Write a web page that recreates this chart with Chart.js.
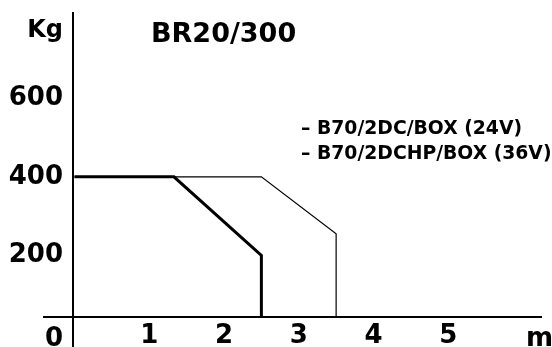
<!DOCTYPE html>
<html>
<head>
<meta charset="utf-8">
<script src="https://cdn.jsdelivr.net/npm/chart.js@4.4.1/dist/chart.umd.min.js"></script>
<style>
  html, body { margin: 0; padding: 0; background: #fff; }
  #wrap { width: 552px; height: 347px; }
</style>
</head>
<body>
<div id="wrap"><canvas id="c" width="552" height="347"></canvas></div>
<script>
// ---- data ----
const chartTitle = 'BR20/300';
const yAxisUnit = 'Kg';
const xAxisUnit = 'm';
const originLabel = '0';
const xTicks = [1, 2, 3, 4, 5];
const yTicks = [200, 400, 600];
const seriesNames = ['B70/2DC/BOX (24V)', 'B70/2DCHP/BOX (36V)'];
const s24x = [0, 1.33, 2.5, 2.5];
const s24y = [400, 400, 200, 0];
const s36x = [0, 2.5, 3.5, 3.5];
const s36y = [400, 400, 255, 0];

const FONT = 'DejaVu Sans';
const toPts = (xs, ys) => xs.map((x, i) => ({ x: x, y: ys[i] }));

const decor = {
  id: 'decor',
  afterDraw(chart) {
    const ctx = chart.ctx;
    const ca = chart.chartArea;
    ctx.save();
    ctx.strokeStyle = '#000';
    ctx.lineWidth = 2;
    // y axis line (runs to the bottom edge)
    ctx.beginPath();
    ctx.moveTo(ca.left, ca.top);
    ctx.lineTo(ca.left, chart.height);
    ctx.stroke();
    // x axis line (extends left past the y axis)
    ctx.beginPath();
    ctx.moveTo(ca.left - 30, ca.bottom);
    ctx.lineTo(ca.right, ca.bottom);
    ctx.stroke();

    ctx.fillStyle = '#000';
    ctx.textBaseline = 'alphabetic';
    // unit label Kg
    ctx.font = 'bold 24px "' + FONT + '"';
    ctx.textAlign = 'right';
    ctx.fillText(yAxisUnit, ca.left - 10, 37);
    // title
    ctx.font = 'bold 27px "' + FONT + '"';
    ctx.textAlign = 'left';
    ctx.fillText(chartTitle, 151, 42);
    // origin and m
    ctx.font = 'bold 26px "' + FONT + '"';
    ctx.textAlign = 'right';
    ctx.fillText(originLabel, ca.left - 10, 346);
    ctx.textAlign = 'left';
    ctx.fillText(xAxisUnit, 526, 346);
    // legend
    ctx.font = 'bold 18.8px "' + FONT + '"';
    ctx.fillText('\u2013 ' + seriesNames[0], 301, 134);
    ctx.fillText('\u2013 ' + seriesNames[1], 301, 159);
    ctx.restore();
  }
};

new Chart(document.getElementById('c'), {
  type: 'line',
  data: {
    datasets: [
      { label: seriesNames[1], data: toPts(s36x, s36y), borderColor: '#000', borderWidth: 1.2, pointRadius: 0, tension: 0, fill: false, clip: { left: 5, top: 5, right: 5, bottom: 0 } },
      { label: seriesNames[0], data: toPts(s24x, s24y), borderColor: '#000', borderWidth: 3, pointRadius: 0, tension: 0, fill: false, clip: { left: 5, top: 5, right: 5, bottom: 0 } }
    ]
  },
  options: {
    responsive: false,
    devicePixelRatio: 1,
    animation: false,
    layout: { padding: { top: 12, right: 10, left: 0, bottom: 0 } },
    plugins: { legend: { display: false }, tooltip: { enabled: false }, title: { display: false } },
    scales: {
      x: {
        type: 'linear', min: -0.02, max: 6.254,
        grid: { display: false, drawTicks: false },
        border: { display: false },
        afterBuildTicks: s => { s.ticks = xTicks.map(v => ({ value: v })); },
        afterFit: s => { s.height = 30; s.paddingLeft = 0; s.paddingRight = 0; },
        ticks: { color: '#000', padding: 4, maxRotation: 0, autoSkip: false, font: { family: FONT, weight: 'bold', size: 26 } }
      },
      y: {
        type: 'linear', min: 43, max: 820,
        grid: { display: false, drawTicks: false },
        border: { display: false },
        afterBuildTicks: s => { s.ticks = yTicks.map(v => ({ value: v })); },
        afterFit: s => { s.width = 73; s.paddingTop = 0; s.paddingBottom = 0; },
        ticks: { color: '#000', padding: 10, autoSkip: false, font: { family: FONT, weight: 'bold', size: 26 } }
      }
    }
  },
  plugins: [decor]
});
</script>
</body>
</html>
